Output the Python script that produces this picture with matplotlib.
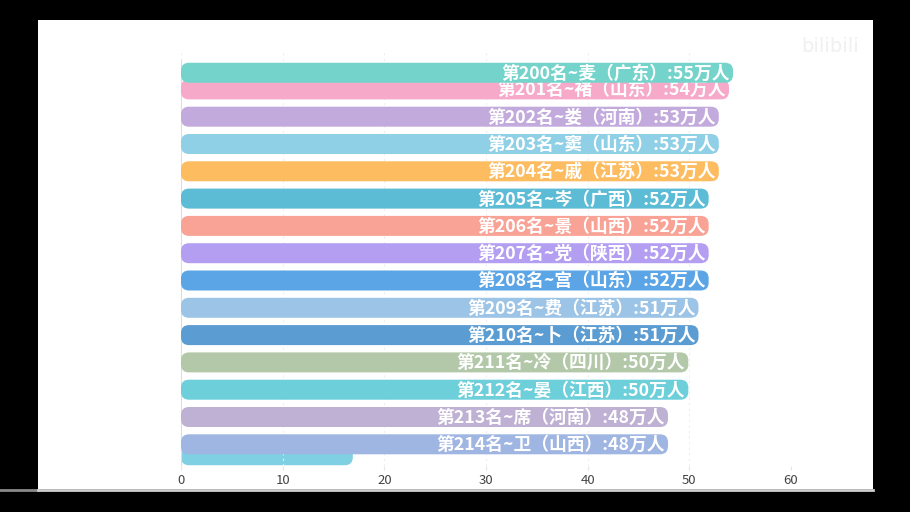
import matplotlib.pyplot as plt
from matplotlib.patches import FancyBboxPatch, Rectangle
from matplotlib.lines import Line2D

plt.rcParams['font.family'] = ['Noto Sans CJK SC', 'DejaVu Sans']

# data (bar race snapshot)
ranks = [200, 201, 202, 203, 204, 205, 206, 207, 208, 209, 210, 211, 212, 213, 214]
surnames = ["麦", "褚", "娄", "窦", "戚", "岑", "景", "党", "宫", "费", "卜", "冷", "晏", "席", "卫"]
provinces = ["广东", "山东", "河南", "山东", "江苏", "广西", "山西", "陕西", "山东", "江苏", "江苏",
             "四川", "江西", "河南", "山西"]
counts = [55, 54, 53, 53, 53, 52, 52, 52, 52, 51, 51, 50, 50, 48, 48]
bar_values = [54.3, 53.9, 52.9, 52.9, 52.9, 51.9, 51.9, 51.9, 51.9, 50.9, 50.9, 49.9, 49.9, 47.9, 47.9]
slots = [0.39, 1.0, 2, 3, 4, 5, 6, 7, 8, 9, 10, 11, 12, 13, 14]
colors = ["#74d4cb", "#f7a9c9", "#c2aadc", "#90d0e6", "#fdbc5f", "#5cbcd6", "#f9a396", "#b49ef2",
          "#5ba5e6", "#9cc4e6", "#5b9dd2", "#b2c8a8", "#6ccfda", "#bfb1d3", "#9fb5e2"]

# bar sliding in from below
incoming_value = 16.9
incoming_slot = 14.4
incoming_color = "#7fd0e2"

xticks = [0, 10, 20, 30, 40, 50, 60]

W, H = 910, 512
fig = plt.figure(figsize=(W / 100, H / 100), dpi=100, facecolor="black")

# white video panel
fig.patches.append(Rectangle((38 / W, 1 - 489 / H), 835 / W, 469 / H, transform=fig.transFigure,
                             facecolor="white", edgecolor="none", zorder=-10))
fig.lines.append(Line2D([0, 38 / W], [1 - 490 / H] * 2, transform=fig.transFigure,
                        color="#8a8a8a", lw=2, zorder=-9))
fig.lines.append(Line2D([38 / W, 873 / W], [1 - 490 / H] * 2, transform=fig.transFigure,
                        color="#d0d0d0", lw=2, zorder=-9))

# axes: x 0..60 maps to px 181..791, slots map 62.1 + 27.3*i px
top_px, bot_px = 50, 466
ax = fig.add_axes([181 / W, 1 - bot_px / H, 610 / W, (bot_px - top_px) / H])
ax.set_facecolor("none")
ax.set_xlim(0, 60)
ax.set_ylim((bot_px - 62.1) / 27.3, (top_px - 62.1) / 27.3)

px_x = 610 / 60
px_y = 27.3
bar_h = 20 / px_y
radius_px = 8
aspect = px_x / px_y


def rounded_bar(value, slot, color, z):
    p = FancyBboxPatch((0, slot - bar_h / 2), value, bar_h,
                       boxstyle=f"round,pad=0,rounding_size={radius_px / px_x}",
                       mutation_aspect=aspect, facecolor=color, edgecolor="none", zorder=z)
    ax.add_patch(p)


rounded_bar(incoming_value, incoming_slot, incoming_color, 1)

n = len(ranks)
for i in range(n - 1, -1, -1):
    z = 2 + 2 * (n - i)
    rounded_bar(bar_values[i], slots[i], colors[i], z)
    label = f"第{ranks[i]}名~{surnames[i]}（{provinces[i]}）:{counts[i]}万人"
    ax.text(bar_values[i] - 0.3, slots[i] + 0.03, label, ha="right", va="center",
            color="white", fontsize=12.8, fontweight="bold", zorder=z + 1)

ax.set_xticks(xticks)
ax.set_yticks([])
ax.tick_params(axis="x", length=3, color="#e6e6e6", labelsize=9.5, labelcolor="#444444", pad=3)
ax.grid(True, axis="x", color="#eeeeee", linestyle=(0, (2, 3)), lw=0.8, zorder=0)
for side in ["top", "right", "bottom"]:
    ax.spines[side].set_visible(False)
ax.spines["left"].set_color("#dddddd")
ax.spines["left"].set_bounds((bot_px - 62.1) / 27.3 - 0.05, (60 - 62.1) / 27.3)

# faint watermark
fig.text(830 / W, 1 - 47 / H, "bilibili", ha="center", va="center", color="#f0f0f0",
         fontsize=14, family=["DejaVu Sans"])

fig.savefig("out.png", dpi=100, facecolor="black")
